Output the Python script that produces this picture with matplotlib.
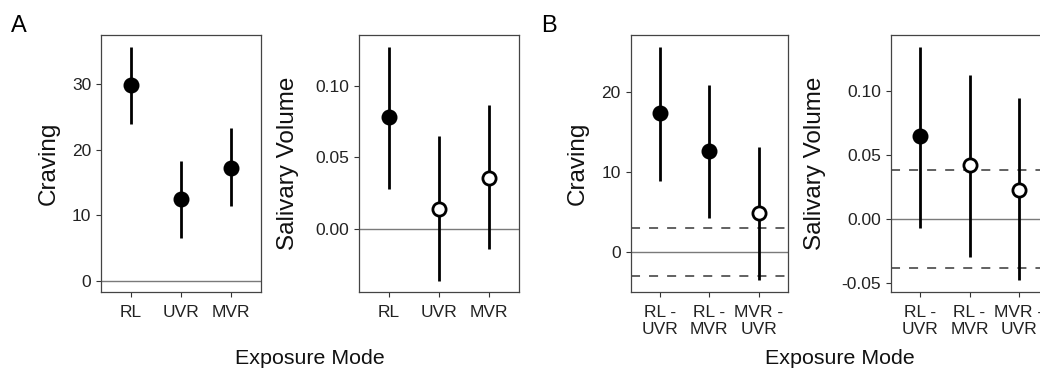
import matplotlib
matplotlib.use('Agg')
import matplotlib.pyplot as plt

plt.rcParams['font.family'] = ['Liberation Sans', 'DejaVu Sans']

# panel A: estimates per exposure mode
modes = ['RL', 'UVR', 'MVR']
crav_a = [29.8, 12.5, 17.25]
crav_a_lo = [23.9, 6.5, 11.4]
crav_a_hi = [35.7, 18.3, 23.3]
crav_a_fill = [True, True, True]

sal_a = [0.0783, 0.0136, 0.0357]
sal_a_lo = [0.0276, -0.0364, -0.014]
sal_a_hi = [0.1273, 0.0648, 0.0865]
sal_a_fill = [True, False, False]

# panel B: pairwise differences
pairs = ['RL -\nUVR', 'RL -\nMVR', 'MVR -\nUVR']
crav_b = [17.3, 12.58, 4.82]
crav_b_lo = [8.84, 4.28, -3.49]
crav_b_hi = [25.65, 20.9, 13.1]
crav_b_fill = [True, True, False]
crav_b_band = 3.0

sal_b = [0.0644, 0.0421, 0.0223]
sal_b_lo = [-0.0070, -0.0302, -0.0479]
sal_b_hi = [0.1346, 0.1126, 0.0941]
sal_b_fill = [True, False, False]
sal_b_band = 0.0385

fig = plt.figure(figsize=(10.4, 3.72), dpi=100)

bot = (372 - 292) / 372
hgt = 257 / 372


def panel(rect, labels, est, lo, hi, fill, ylim, yticks, yticklabels, ylabel, labx, band=None):
    ax = fig.add_axes(rect)
    xs = list(range(1, len(labels) + 1))
    ax.axhline(0, color='#7a7a7a', lw=1.0, zorder=1)
    if band is not None:
        ax.axhline(band, color='#555555', lw=1.3, ls=(0, (5, 5)), zorder=1)
        ax.axhline(-band, color='#555555', lw=1.3, ls=(0, (5, 5)), zorder=1)
    ax.vlines(xs, lo, hi, color='black', lw=2.0, zorder=2)
    for x, y, f in zip(xs, est, fill):
        ax.plot(x, y, 'o', ms=9.5, mfc='black' if f else 'white',
                mec='black', mew=2.0, zorder=3)
    ax.set_xlim(0.41, 3.6)
    ax.set_ylim(*ylim)
    ax.set_xticks(xs)
    ax.set_xticklabels(labels)
    ax.set_yticks(yticks)
    ax.set_yticklabels(yticklabels)
    ax.tick_params(axis='both', direction='out', length=3.6, width=0.8,
                   colors='#333333', labelcolor='#222222', labelsize=12.5)
    ax.tick_params(axis='x', pad=5.5)
    ax.tick_params(axis='y', pad=3.5)
    for s in ax.spines.values():
        s.set_color('#444444')
        s.set_linewidth(0.9)
    ax.set_ylabel(ylabel, fontsize=17.5, color='#111111')
    ax.yaxis.set_label_coords(labx, 0.5)
    return ax


panel([101 / 1040, bot, 160 / 1040, hgt], modes, crav_a, crav_a_lo, crav_a_hi,
      crav_a_fill, (-1.7, 37.5), [0, 10, 20, 30], ['0', '10', '20', '30'],
      'Craving', -0.256)
panel([359 / 1040, bot, 160 / 1040, hgt], modes, sal_a, sal_a_lo, sal_a_hi,
      sal_a_fill, (-0.0443, 0.1355), [0, 0.05, 0.10], ['0.00', '0.05', '0.10'],
      'Salivary Volume', -0.376)
panel([630.7 / 1040, bot, 157.5 / 1040, hgt], pairs, crav_b, crav_b_lo, crav_b_hi,
      crav_b_fill, (-5.0, 27.1), [0, 10, 20], ['0', '10', '20'],
      'Craving', -0.265, band=crav_b_band)
panel([891 / 1040, bot, 157.5 / 1040, hgt], pairs, sal_b, sal_b_lo, sal_b_hi,
      sal_b_fill, (-0.0573, 0.1437), [-0.05, 0, 0.05, 0.10],
      ['-0.05', '0.00', '0.05', '0.10'],
      'Salivary Volume', -0.413, band=sal_b_band)

fig.text(310 / 1040, (372 - 364.3) / 372, 'Exposure Mode', ha='center',
         va='baseline', fontsize=15.4, color='#111111')
fig.text(840 / 1040, (372 - 364.3) / 372, 'Exposure Mode', ha='center',
         va='baseline', fontsize=15.4, color='#111111')
fig.text(11 / 1040, 1 - 32 / 372, 'A', ha='left', va='baseline', fontsize=17)
fig.text(541 / 1040, 1 - 32 / 372, 'B', ha='left', va='baseline', fontsize=17)

fig.savefig('out.png', dpi=100)
